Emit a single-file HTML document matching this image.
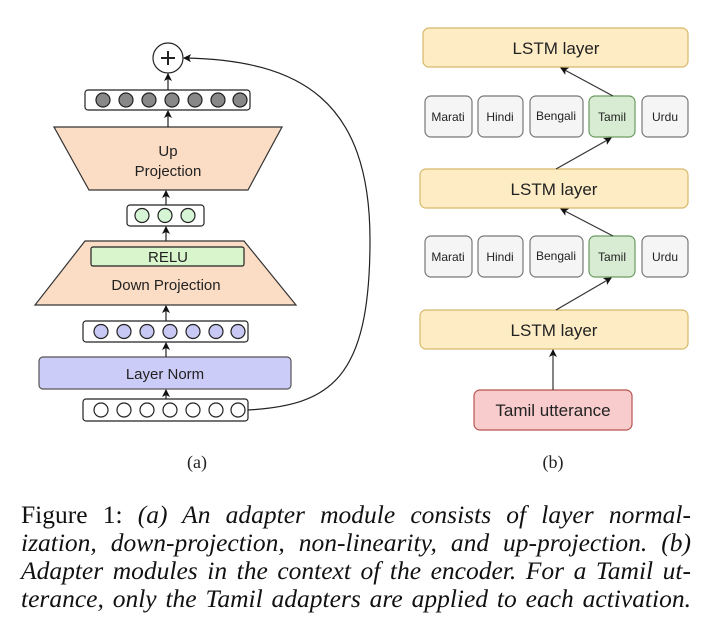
<!DOCTYPE html>
<html><head><meta charset="utf-8"><style>
body{margin:0;background:#fff;width:716px;height:631px;overflow:hidden;position:relative}
svg{position:absolute;left:0;top:0}
.cap{position:absolute;left:21px;width:670px;font-family:"Liberation Serif",serif;font-size:25.5px;line-height:28px;color:#111}
.cap div{text-align:justify;text-align-last:justify;white-space:nowrap;height:28px}
i{font-style:italic}
</style></head><body>
<svg width="716" height="631" font-family="Liberation Sans, sans-serif">
<defs><marker id="ah" markerWidth="8" markerHeight="8" refX="7" refY="4" orient="auto" markerUnits="userSpaceOnUse"><path d="M0,0 L8,4 L0,8 L2,4z" fill="#111"/></marker></defs>
<g stroke="#222" stroke-width="1.2">
<circle cx="168" cy="58" r="15" fill="#fff"/>
<line x1="168" y1="51" x2="168" y2="65" stroke-width="2"/><line x1="161" y1="58" x2="175" y2="58" stroke-width="2"/>
<rect x="85" y="90" width="165" height="20" rx="3" fill="#fff"/>
<g fill="#888"><circle cx="103" cy="100" r="7"/><circle cx="126" cy="100" r="7"/><circle cx="149" cy="100" r="7"/><circle cx="172" cy="100" r="7"/><circle cx="195" cy="100" r="7"/><circle cx="218" cy="100" r="7"/><circle cx="240" cy="100" r="7"/></g>
<polygon points="54,127 282,127 248,190 89,190" fill="#fbdcc4" stroke="#333"/>
<rect x="127" y="205" width="77" height="21" rx="3" fill="#fff"/>
<g fill="#d5f5d5"><circle cx="142" cy="215.5" r="7"/><circle cx="165" cy="215.5" r="7"/><circle cx="188" cy="215.5" r="7"/></g>
<polygon points="85,241 244,241 296,305 35,305" fill="#fbdcc4" stroke="#333"/>
<rect x="91" y="247" width="153" height="19" rx="2" fill="#d8f5cc"/>
<rect x="83" y="321" width="165" height="21" rx="3" fill="#fff"/>
<g fill="#c8c8f4"><circle cx="101" cy="331.5" r="7"/><circle cx="124" cy="331.5" r="7"/><circle cx="147" cy="331.5" r="7"/><circle cx="170" cy="331.5" r="7"/><circle cx="193" cy="331.5" r="7"/><circle cx="216" cy="331.5" r="7"/><circle cx="238" cy="331.5" r="7"/></g>
<rect x="39" y="357" width="252" height="32" rx="4" fill="#ccccf8" stroke="#555"/>
<rect x="83" y="399" width="165" height="22" rx="3" fill="#fff"/>
<g fill="#fff"><circle cx="101" cy="410" r="7"/><circle cx="124" cy="410" r="7"/><circle cx="147" cy="410" r="7"/><circle cx="170" cy="410" r="7"/><circle cx="193" cy="410" r="7"/><circle cx="216" cy="410" r="7"/><circle cx="238" cy="410" r="7"/></g>
<g fill="none" marker-end="url(#ah)">
<line x1="166" y1="399" x2="166" y2="390"/>
<line x1="166" y1="357" x2="166" y2="343"/>
<line x1="166" y1="321" x2="166" y2="306"/>
<line x1="166" y1="241" x2="166" y2="227"/>
<line x1="166" y1="205" x2="166" y2="191"/>
<line x1="168" y1="127" x2="168" y2="111"/>
<line x1="168" y1="90" x2="168" y2="74"/>
<path d="M248,410 C330,405 370,380 370,240 C370,100 300,60 184,58"/>
</g>
<g fill="#fdecc4" stroke="#d8b86a">
<rect x="423" y="28" width="265" height="39" rx="6"/>
<rect x="420" y="169" width="268" height="39" rx="6"/>
<rect x="420" y="310" width="268" height="39" rx="6"/>
</g>
<g fill="#f5f5f5" stroke="#777">
<rect x="425" y="96" width="47" height="41" rx="6"/><rect x="478" y="96" width="45" height="41" rx="6"/><rect x="530" y="96" width="53" height="41" rx="6"/><rect x="642" y="96" width="46" height="41" rx="6"/>
<rect x="425" y="236" width="47" height="41" rx="6"/><rect x="478" y="236" width="45" height="41" rx="6"/><rect x="530" y="236" width="53" height="41" rx="6"/><rect x="642" y="236" width="46" height="41" rx="6"/>
<rect x="589" y="96" width="46" height="41" rx="6" fill="#d8ecd4" stroke="#6a9a60"/>
<rect x="589" y="236" width="46" height="41" rx="6" fill="#d8ecd4" stroke="#6a9a60"/>
</g>
<rect x="474" y="390" width="158" height="40" rx="6" fill="#f8cccc" stroke="#b85450"/>
<g fill="none" stroke="#333" marker-end="url(#ah)">
<line x1="613" y1="96" x2="561" y2="68"/>
<line x1="556" y1="169" x2="611" y2="138"/>
<line x1="613" y1="236" x2="561" y2="209"/>
<line x1="556" y1="310" x2="611" y2="278"/>
<line x1="553" y1="390" x2="553" y2="350"/>
</g>
</g>
<g fill="#222" text-anchor="middle" font-size="15">
<text x="168" y="156">Up</text><text x="168" y="176">Projection</text>
<text x="168" y="262">RELU</text>
<text x="166" y="290">Down Projection</text>
<text x="165" y="379">Layer Norm</text>
<g font-size="17"><text x="556" y="54">LSTM layer</text><text x="554" y="195">LSTM layer</text><text x="554" y="336">LSTM layer</text><text x="553" y="416">Tamil utterance</text></g>
<g font-size="12"><text x="448" y="121">Marati</text><text x="500" y="121">Hindi</text><text x="556" y="120">Bengali</text><text x="612" y="121">Tamil</text><text x="665" y="121">Urdu</text>
<text x="448" y="261">Marati</text><text x="500" y="261">Hindi</text><text x="556" y="260">Bengali</text><text x="612" y="261">Tamil</text><text x="665" y="261">Urdu</text></g>
<g font-family="Liberation Serif, serif" font-size="18"><text x="197" y="468">(a)</text><text x="553" y="468">(b)</text></g>
</g>
</svg>
<div class="cap" style="top:501px">
<div>Figure 1: <i>(a) An adapter module consists of layer normal-</i></div>
<div><i>ization, down-projection, non-linearity, and up-projection. (b)</i></div>
<div><i>Adapter modules in the context of the encoder. For a Tamil ut-</i></div>
<div><i>terance, only the Tamil adapters are applied to each activation.</i></div>
</div>
</body></html>
